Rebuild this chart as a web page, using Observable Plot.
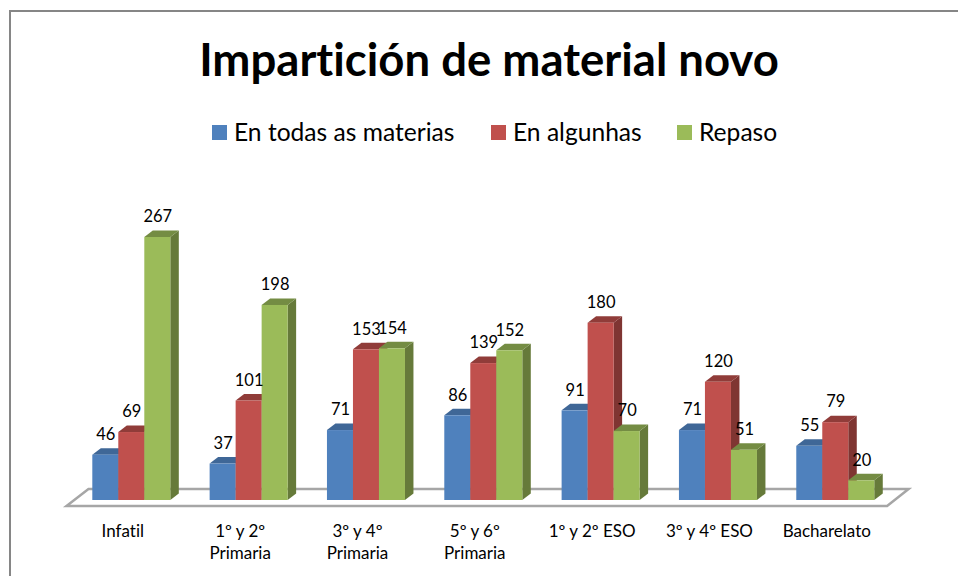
<!DOCTYPE html>
<html>
<head>
<meta charset="utf-8">
<script src="https://cdn.jsdelivr.net/npm/d3@7"></script>
<script src="https://cdn.jsdelivr.net/npm/@observablehq/plot@0.6"></script>
<style>
  html, body { margin: 0; padding: 0; background: #fff; width: 958px; height: 576px; overflow: hidden; }
  body { font-family: Lato, sans-serif; color: #000; position: relative; font-variant-ligatures: none; }
  #frame { position: absolute; left: 9px; top: 9.5px; right: -4px; bottom: -4px; border: 2px solid #868686; pointer-events: none; }
  #title { height: 108px; margin: 0; padding-top: 30px; box-sizing: border-box; text-align: center; font-size: 45.5px; line-height: 58px; font-weight: 700; padding-left: 20px; }
  #legend { position: relative; height: 42px; font-size: 24.6px; }
  #legend span { position: absolute; top: 4px; line-height: 40px; white-space: nowrap; }
  #legend i { position: absolute; top: 17px; width: 15px; height: 15px; display: block; }
  svg { display: block; }
  svg text { font-variant-ligatures: none; }
</style>
</head>
<body>
<div id="frame"></div>
<div id="title">Impartición de material novo</div>
<div id="legend"></div>
<div id="chart"></div>
<script>
const categories = ["Infatil", "1º y 2º\nPrimaria", "3º y 4º\nPrimaria", "5º y 6º\nPrimaria", "1º y 2º ESO", "3º y 4º ESO", "Bacharelato"];
const seriesNames = ["En todas as materias", "En algunhas", "Repaso"];
const todas = [46, 37, 71, 86, 91, 71, 55];
const algunhas = [69, 101, 153, 139, 180, 120, 79];
const repaso = [267, 198, 154, 152, 70, 51, 20];
const frontColors = ["#4f81bd", "#c0504d", "#9bbb59"];
const topColors = ["#3f6797", "#903c39", "#748c43"];
const sideColors = ["#3a5f8b", "#7f3532", "#667a3a"];
const legendX = [[212, 234], [491, 513], [677, 699]];

const seriesValues = [todas, algunhas, repaso];
const barW = 26, depthX = 8.5, depthY = 6.5;

const legend = document.getElementById("legend");
seriesNames.forEach((name, i) => {
  const sw = document.createElement("i");
  sw.style.left = legendX[i][0] + "px";
  sw.style.background = frontColors[i];
  legend.appendChild(sw);
  const t = document.createElement("span");
  t.style.left = legendX[i][1] + "px";
  t.textContent = name;
  legend.appendChild(t);
});

const rows = s => categories.map((c, i) => ({cat: c, value: seriesValues[s][i]}));

function floor(index, scales, values, dims) {
  const y = scales.y;
  const left = dims.marginLeft + 13.5, right = dims.width - dims.marginRight - 26.5;
  const front = y(0) + 6, back = y(0) - 11;
  const g = d3.create("svg:g");
  g.append("path")
    .attr("d", `M${left},${front}L${right},${front}L${right + 21.5},${back}L${left + 22},${back}Z`)
    .attr("fill", "#fff").attr("stroke", "#a6a6a6").attr("stroke-width", 2.5);
  return g.node();
}

function faces(s) {
  return (index, scales) => {
    const {x, y} = scales;
    const g = d3.create("svg:g");
    categories.forEach((c, i) => {
      const x0 = x(c) + s * barW, x1 = x0 + barW;
      const top = y(seriesValues[s][i]), base = y(0);
      g.append("path")
        .attr("d", `M${x1},${base}L${x1 + depthX},${base - depthY}L${x1 + depthX},${top - depthY}L${x1},${top}Z`)
        .attr("fill", sideColors[s]);
      g.append("path")
        .attr("d", `M${x0},${top}L${x0 + depthX},${top - depthY}L${x1 + depthX},${top - depthY}L${x1},${top}Z`)
        .attr("fill", topColors[s]);
    });
    return g.node();
  };
}

const barMarks = [];
const labelMarks = [];
seriesNames.forEach((name, s) => {
  barMarks.push(faces(s));
  barMarks.push(Plot.barY(rows(s), {
    x: "cat", y: "value", fill: frontColors[s],
    insetLeft: s * barW, insetRight: (2 - s) * barW
  }));
  labelMarks.push(Plot.text(rows(s), {
    x: "cat", y: "value", text: d => String(d.value),
    dx: (s - 1) * barW, dy: -20.5, fontSize: 16.5, fill: "#000"
  }));
});

const chart = Plot.plot({
  width: 958,
  height: 426,
  marginLeft: 53,
  marginRight: 44.4,
  marginTop: 50,
  marginBottom: 76,
  style: {fontFamily: "Lato, sans-serif", background: "transparent", overflow: "visible"},
  x: {domain: categories, padding: 0.335, round: false, axis: null},
  y: {domain: [0, 300], range: [350, 54.5], axis: null},
  marks: [
    floor,
    ...barMarks,
    ...labelMarks,
    Plot.axisX({anchor: "bottom", tickSize: 0, tickPadding: 21, label: null, fontSize: 17, lineHeight: 1.3, dx: -9, lineAnchor: "top", fontWeight: 400})
  ]
});
document.getElementById("chart").appendChild(chart);
</script>
</body>
</html>
